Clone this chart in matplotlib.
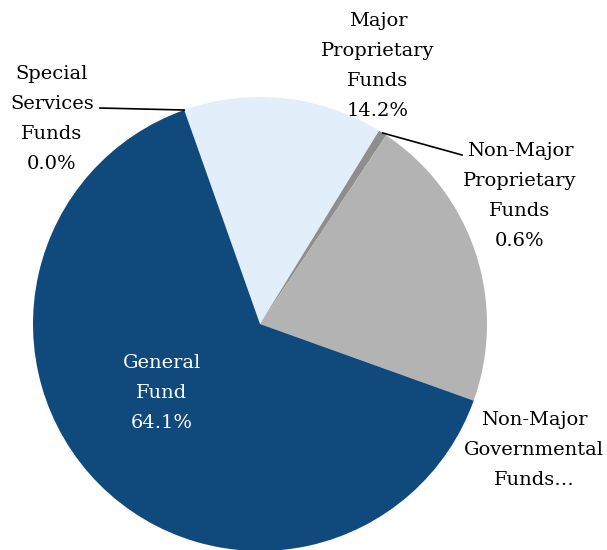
import numpy as np
import matplotlib.pyplot as plt

# fund shares in percent, in clockwise order from the top
funds = ['Special\nServices\nFunds', 'Major\nProprietary\nFunds', 'Non-Major\nProprietary\nFunds',
         'Non-Major\nGovernmental\nFunds…', 'General\nFund']
shares = [0.0, 14.2, 0.6, 21.1, 64.1]
pct_labels = ['0.0%', '14.2%', '0.6%', '', '64.1%']
colors = ['#7F7F7F', '#E2EEFA', '#8E8E8E', '#B3B3B3', '#104A7D']

plt.rcParams['font.family'] = ['DejaVu Serif']

fig = plt.figure(figsize=(6.07, 5.5), dpi=100)
ax = fig.add_axes([0, 0, 1, 1])

cx, cy, r = 260, 226, 227
wedges, _ = ax.pie(shares, colors=colors, startangle=109.5, counterclock=False,
                   center=(cx, cy), radius=r, frame=True,
                   wedgeprops=dict(linewidth=0))
ax.set_xlim(0, 607)
ax.set_ylim(0, 550)
ax.set_aspect('equal')
ax.axis('off')

# label positions (pixel centres of each block)
label_pos = [(52, 119), (378, 66), (520, 196), (534, 450), (162, 393)]
fs = 14
for i, (name, pct) in enumerate(zip(funds, pct_labels)):
    text = name if pct == '' else name + '\n' + pct
    x, y = label_pos[i]
    ax.text(x, 550 - y, text, ha='center', va='center', fontsize=fs,
            linespacing=1.85, color='white' if i == 4 else 'black')

# leader lines
def edge_point(w):
    ang = np.deg2rad((w.theta1 + w.theta2) / 2)
    return cx + r * np.cos(ang), cy + r * np.sin(ang)

ex, ey = edge_point(wedges[0])
ax.plot([100, ex], [550 - 108, ey], color='black', lw=1.2)
ex, ey = edge_point(wedges[2])
ax.plot([ex, 462], [ey, 550 - 155], color='black', lw=1.2)

fig.savefig('out.png', dpi=100)
